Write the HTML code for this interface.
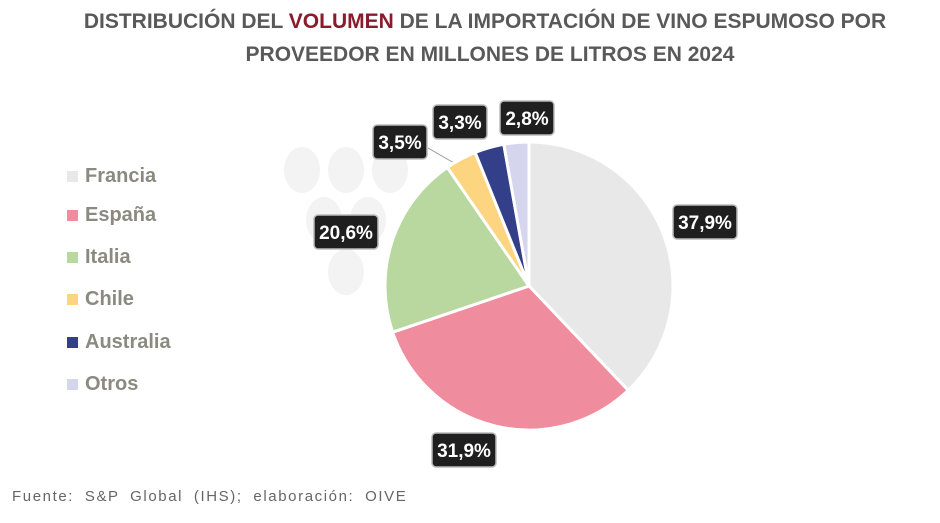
<!DOCTYPE html>
<html><head><meta charset="utf-8"><style>
body{margin:0;width:940px;height:523px;background:#fff;font-family:"Liberation Sans",sans-serif;position:relative;overflow:hidden}
.t{position:absolute;left:0;width:970px;text-align:center;font-weight:bold;font-size:21px;color:#595959;letter-spacing:0px}
.lg{position:absolute;left:67px;font-weight:bold;font-size:20px;color:#8a8a80}
.lg i{display:inline-block;width:11px;height:11px;margin-right:7px}
.f{position:absolute;left:12px;top:488px;font-size:15px;color:#666;letter-spacing:1.6px;word-spacing:5px}
</style></head><body>
<div class="t" style="top:10px">DISTRIBUCIÓN DEL <span style="color:#8b1a2b">VOLUMEN</span> DE LA IMPORTACIÓN DE VINO ESPUMOSO POR</div>
<div class="t" style="top:43px;left:50px;width:880px">PROVEEDOR EN MILLONES DE LITROS EN 2024</div>
<div class="lg" style="top:165px"><i style="background:#e8e8e8"></i>Francia</div>
<div class="lg" style="top:204px"><i style="background:#ef8c9d"></i>España</div>
<div class="lg" style="top:246px"><i style="background:#b8d8a0"></i>Italia</div>
<div class="lg" style="top:288px"><i style="background:#fdd47f"></i>Chile</div>
<div class="lg" style="top:331px"><i style="background:#343f8a"></i>Australia</div>
<div class="lg" style="top:373px"><i style="background:#d5d5ee"></i>Otros</div>
<svg id="s" width="940" height="523" style="position:absolute;left:0;top:0">
<g fill="#f3f3f3"><ellipse cx="302" cy="170" rx="18" ry="23"/><ellipse cx="346" cy="170" rx="18" ry="23"/><ellipse cx="390" cy="170" rx="18" ry="23"/><ellipse cx="324" cy="220" rx="18" ry="23"/><ellipse cx="368" cy="220" rx="18" ry="23"/><ellipse cx="346" cy="272" rx="18" ry="23"/></g>
<line x1="428" y1="148" x2="454" y2="163" stroke="#999" stroke-width="1"/>
</svg>
<div class="f">Fuente: S&amp;P Global (IHS); elaboración: OIVE</div>
<script>
var s=document.getElementById('s'),cx=529,cy=286,r=144;
var d=[[.379,'#e8e8e8'],[.319,'#ef8c9d'],[.206,'#b8d8a0'],[.035,'#fdd47f'],[.033,'#343f8a'],[.028,'#d5d5ee']];
var a=0,h='';
function p(f){var t=2*Math.PI*f;return [cx+r*Math.sin(t),cy-r*Math.cos(t)];}
d.forEach(function(e){var b=a+e[0],p1=p(a),p2=p(b);
h+='<path d="M'+cx+','+cy+'L'+p1[0]+','+p1[1]+'A'+r+','+r+' 0 '+(e[0]>.5?1:0)+' 1 '+p2[0]+','+p2[1]+'Z" fill="'+e[1]+'" stroke="#fff" stroke-width="3"/>';a=b;});
var L=[['37,9%',705,222],['31,9%',464,450],['20,6%',346,232],['3,5%',400,142],['3,3%',460,122],['2,8%',527,118]];
L.forEach(function(l){var w=l[0].length==5?64:54;
h+='<rect x="'+(l[1]-w/2)+'" y="'+(l[2]-17)+'" width="'+w+'" height="34" rx="4" fill="#1f1f1f" stroke="#bbb" stroke-width="1.5"/><text x="'+l[1]+'" y="'+(l[2]+7)+'" text-anchor="middle" font-family="Liberation Sans" font-weight="bold" font-size="19" fill="#fff">'+l[0]+'</text>';});
s.insertAdjacentHTML('beforeend',h);
</script>
</body></html>
